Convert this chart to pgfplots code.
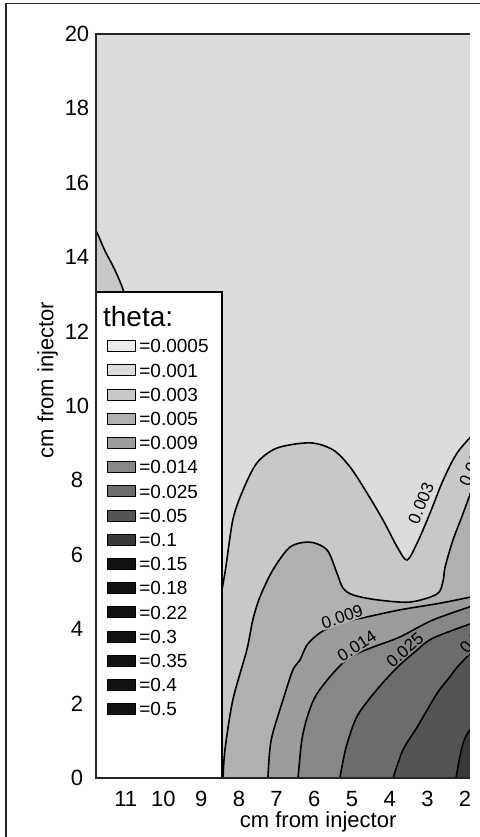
\documentclass[border=0pt]{standalone}
\usepackage{fontspec}
\setmainfont{Liberation Sans}
\usepackage{pgfplots}
\usepackage{pgfplotstable}
\pgfplotsset{compat=1.18}

\definecolor{L0005}{gray}{0.92}
\definecolor{L001}{gray}{0.863}
\definecolor{L003}{gray}{0.784}
\definecolor{L005}{gray}{0.69}
\definecolor{L009}{gray}{0.61}
\definecolor{L014}{gray}{0.53}
\definecolor{L025}{gray}{0.425}
\definecolor{L05}{gray}{0.33}
\definecolor{L1}{gray}{0.22}
\definecolor{L15}{gray}{0.07}

% contour lines (x in cm from injector, y in cm)
\pgfplotstableread{
x y
11.95 14.79
11.80 14.73
11.56 14.19
11.29 13.66
11.05 13.06
10.89 12.31
}\curveU
\pgfplotstableread{
x y
10.36 0
8.90 3.17
8.56 4.52
8.37 5.51
8.16 6.94
7.89 7.74
7.52 8.47
6.99 8.87
6.11 9.01
5.50 8.82
5.05 8.36
4.60 7.66
4.18 6.94
3.80 6.21
3.54 5.86
3.27 6.32
2.93 7.12
2.58 8.01
2.21 8.74
1.73 9.30
}\curveA
\pgfplotstableread{
x y
8.42 0
8.37 0.75
8.16 2.10
7.79 3.44
7.63 4.25
7.44 4.87
7.10 5.59
6.64 6.21
6.11 6.34
5.66 6.13
5.40 5.51
5.24 5.11
4.97 4.92
4.34 4.79
3.46 4.73
2.74 4.95
2.58 5.32
2.53 5.67
2.32 6.40
2.05 7.12
1.73 8.01
}\curveB
\pgfplotstableread{
x y
7.23 0
7.18 0.75
7.10 1.21
6.83 2.10
6.57 2.90
6.38 3.17
6.19 3.58
5.85 3.90
5.32 4.17
4.60 4.33
3.73 4.52
2.66 4.70
1.73 4.89
}\curveC
\pgfplotstableread{
x y
6.43 0
6.33 1.02
6.17 1.69
5.95 2.23
5.50 2.82
5.05 3.25
4.44 3.52
3.73 3.79
2.85 4.25
1.73 4.65
}\curveD
\pgfplotstableread{
x y
5.32 0
5.16 0.81
4.89 1.61
4.52 2.15
4.12 2.63
3.73 3.04
3.33 3.39
2.85 3.76
1.73 4.19
}\curveE
\pgfplotstableread{
x y
3.91 0
3.65 0.75
3.27 1.37
2.74 2.28
2.40 2.72
2.21 2.98
1.73 3.49
}\curveF
\pgfplotstableread{
x y
2.24 0
2.13 0.62
2.00 1.08
1.73 1.50
}\curveG

\begin{document}
\begin{tikzpicture}
\useasboundingbox (0,0) rectangle (239.5pt,418.5pt);
\begin{axis}[
  at={(48pt,29.5pt)}, anchor=south west,
  scale only axis, width=187pt, height=372pt,
  x dir=reverse, xmin=1.87, xmax=11.79, ymin=0, ymax=20,
  xtick={2,...,11}, ytick={0,2,...,20},
  major tick length=0pt,
  axis line style={draw=none},
  axis background/.style={fill=L001},
  tick label style={font=\fontsize{11}{13}\selectfont},
  /pgf/number format/assume math mode=true,
  xticklabel style={anchor=north, inner sep=0pt, yshift=-6.55pt},
  yticklabel style={anchor=center, inner sep=0pt, xshift=-9.5pt},
  xlabel={cm from injector}, ylabel={cm from injector},
  label style={font=\fontsize{11}{13}\selectfont},
  xlabel style={at={(axis description cs:0.594,-0.0659)}, anchor=base},
  ylabel style={at={(axis description cs:-0.1142,0.535)}, anchor=base},
  legend image code/.code={\draw[#1] (0pt,-2.75pt) rectangle (14pt,2.75pt);},
  legend style={at={(axis description cs:0.0294,0.5973)}, anchor=north west,
    draw=none, fill=none, inner sep=0pt, row sep=0pt, column sep=1.5pt,
    font=\fontsize{9.5}{11}\selectfont,
    nodes={inner sep=0pt, text height=9.45pt, text depth=2.65pt}},
  legend cell align=left,
]
\addlegendimage{fill=L0005, draw=black, line width=0.5pt}\addlegendentry{=0.0005}
\addlegendimage{fill=L001, draw=black, line width=0.5pt}\addlegendentry{=0.001}
\addlegendimage{fill=L003, draw=black, line width=0.5pt}\addlegendentry{=0.003}
\addlegendimage{fill=L005, draw=black, line width=0.5pt}\addlegendentry{=0.005}
\addlegendimage{fill=L009, draw=black, line width=0.5pt}\addlegendentry{=0.009}
\addlegendimage{fill=L014, draw=black, line width=0.5pt}\addlegendentry{=0.014}
\addlegendimage{fill=L025, draw=black, line width=0.5pt}\addlegendentry{=0.025}
\addlegendimage{fill=L05, draw=black, line width=0.5pt}\addlegendentry{=0.05}
\addlegendimage{fill=L1, draw=black, line width=0.5pt}\addlegendentry{=0.1}
\addlegendimage{fill=L15, draw=black, line width=0.5pt}\addlegendentry{=0.15}
\addlegendimage{fill=L15, draw=black, line width=0.5pt}\addlegendentry{=0.18}
\addlegendimage{fill=L15, draw=black, line width=0.5pt}\addlegendentry{=0.22}
\addlegendimage{fill=L15, draw=black, line width=0.5pt}\addlegendentry{=0.3}
\addlegendimage{fill=L15, draw=black, line width=0.5pt}\addlegendentry{=0.35}
\addlegendimage{fill=L15, draw=black, line width=0.5pt}\addlegendentry{=0.4}
\addlegendimage{fill=L15, draw=black, line width=0.5pt}\addlegendentry{=0.5}

% filled bands
\addplot[fill=L003, draw=none, smooth, forget plot] table {\curveU} \closedcycle;
\addplot[fill=L003, draw=none, smooth, forget plot] table {\curveA} \closedcycle;
\addplot[fill=L005, draw=none, smooth, forget plot] table {\curveB} \closedcycle;
\addplot[fill=L009, draw=none, smooth, forget plot] table {\curveC} \closedcycle;
\addplot[fill=L014, draw=none, smooth, forget plot] table {\curveD} \closedcycle;
\addplot[fill=L025, draw=none, smooth, forget plot] table {\curveE} \closedcycle;
\addplot[fill=L05, draw=none, smooth, forget plot] table {\curveF} \closedcycle;
\addplot[fill=L1, draw=none, smooth, forget plot] table {\curveG} \closedcycle;
% contour lines
\addplot[black, line width=0.8pt, smooth, forget plot] table {\curveU};
\addplot[black, line width=0.8pt, smooth, forget plot] table {\curveA};
\addplot[black, line width=0.8pt, smooth, forget plot] table {\curveB};
\addplot[black, line width=0.8pt, smooth, forget plot] table {\curveC};
\addplot[black, line width=0.8pt, smooth, forget plot] table {\curveD};
\addplot[black, line width=0.8pt, smooth, forget plot] table {\curveE};
\addplot[black, line width=0.8pt, smooth, forget plot] table {\curveF};
\addplot[black, line width=0.8pt, smooth, forget plot] table {\curveG};
% contour labels
\begin{scope}[every node/.style={font=\fontsize{8.5}{10}\selectfont, inner sep=0.4pt}]
\node[fill=L001, rotate=68] at (axis cs:3.17,7.39) {0.003};
\node[fill=L003, rotate=65, anchor=west] at (axis cs:2.05,7.85) {0.005};
\node[fill=L005, rotate=19] at (axis cs:5.26,4.33) {0.009};
\node[fill=L009, rotate=33] at (axis cs:4.87,3.55) {0.014};
\node[fill=L014, rotate=41] at (axis cs:3.60,3.44) {0.025};
\node[fill=L025, rotate=49, anchor=west] at (axis cs:2.08,3.39) {0.05};
\end{scope}
% legend panel
\draw[fill=white, line width=0.6pt] (axis description cs:0,0) rectangle (axis description cs:0.3369,0.6532);
\node[anchor=base west, font=\fontsize{14}{16}\selectfont, inner sep=0pt] at (axis description cs:0.0179,0.6066) {theta:};
\end{axis}
\draw[line width=1pt, black!85] (current axis.south east) -- (current axis.south west) -- (current axis.north west) -- (current axis.north east);
\draw[line width=0.8pt, black!85] (3pt,-5pt) -- (3pt,416.75pt) -- (250pt,416.75pt);
\end{tikzpicture}
\end{document}
